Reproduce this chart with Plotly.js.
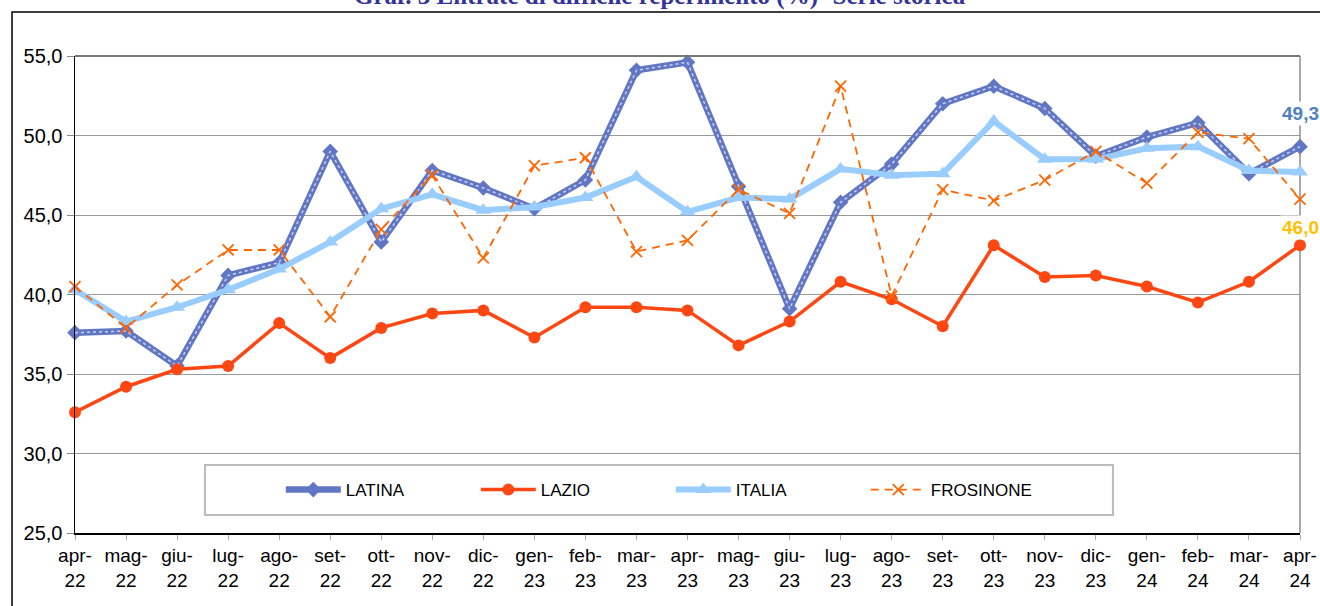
<!DOCTYPE html>
<html>
<head>
<meta charset="utf-8">
<script src="https://cdn.plot.ly/plotly-3.0.1.min.js"></script>
<style>html,body{margin:0;padding:0;background:#fff;}#chart{width:1320px;height:606px;}</style>
</head>
<body>
<div id="chart"></div>
<script>
const months = ['apr-22','mag-22','giu-22','lug-22','ago-22','set-22','ott-22','nov-22','dic-22','gen-23','feb-23','mar-23','apr-23','mag-23','giu-23','lug-23','ago-23','set-23','ott-23','nov-23','dic-23','gen-24','feb-24','mar-24','apr-24'];
const latina    = [37.6,37.7,35.5,41.2,42.0,49.0,43.3,47.8,46.7,45.4,47.2,54.1,54.6,46.8,39.1,45.8,48.2,52.0,53.1,51.7,48.7,49.9,50.8,47.6,49.3];
const lazio     = [32.6,34.2,35.3,35.5,38.2,36.0,37.9,38.8,39.0,37.3,39.2,39.2,39.0,36.8,38.3,40.8,39.7,38.0,43.1,41.1,41.2,40.5,39.5,40.8,43.1];
const italia    = [40.3,38.3,39.2,40.3,41.6,43.3,45.4,46.3,45.3,45.5,46.1,47.4,45.2,46.1,46.0,47.9,47.5,47.6,50.9,48.5,48.5,49.2,49.3,47.8,47.7];
const frosinone = [40.5,37.9,40.6,42.8,42.8,38.6,44.1,47.5,42.3,48.1,48.6,42.7,43.4,46.6,45.1,53.1,39.9,46.6,45.9,47.2,49.0,47.0,50.2,49.8,46.0];

const xs = months.map((m, i) => i);
const tickText = months.map(m => m.replace('-', '-<br>'));
const FONT = 'Liberation Sans, Arial, sans-serif';
const fmt = v => v.toFixed(1).replace('.', ',');

const traces = [
  {x: xs, y: latina, name: 'LATINA', mode: 'lines+markers', cliponaxis: false,
   line: {color: '#6177C4', width: 6.5}, marker: {symbol: 'diamond', size: 12, color: '#6177C4'}},
  {x: xs, y: latina, name: 'LATINA', mode: 'lines', showlegend: false, hoverinfo: 'skip', cliponaxis: false,
   line: {color: 'rgba(235,240,255,0.75)', width: 1.5, dash: 'dot'}},
  {x: xs, y: lazio, name: 'LAZIO', mode: 'lines+markers', cliponaxis: false,
   line: {color: '#FF4713', width: 3.5}, marker: {symbol: 'circle', size: 12, color: '#FF4713'}},
  {x: xs, y: italia, name: 'ITALIA', mode: 'lines+markers', cliponaxis: false,
   line: {color: '#99CCFF', width: 6}, marker: {symbol: 'triangle-up', size: 14, color: '#99CCFF'}},
  {x: xs, y: frosinone, name: 'FROSINONE', mode: 'lines+markers', cliponaxis: false,
   line: {color: '#FF6600', width: 1.8, dash: '8px,6px'},
   marker: {symbol: 'x-thin', size: 11, color: '#FF6600', line: {color: '#FF6600', width: 1.8}}}
];

const last = xs.length - 1;
const layout = {
  width: 1320, height: 606,
  margin: {l: 75, r: 20, t: 56, b: 73, autoexpand: false},
  paper_bgcolor: '#fff', plot_bgcolor: '#fff',
  separators: ',.',
  font: {family: FONT, size: 19, color: '#000'},
  showlegend: true,
  legend: {orientation: 'h', x: 0.168, xanchor: 'left', y: 0.090, yanchor: 'middle',
    bgcolor: 'rgba(0,0,0,0)', borderwidth: 0, font: {family: FONT, size: 17, color: '#000'},
    entrywidth: 125, entrywidthmode: 'pixels', itemwidth: 55, traceorder: 'normal'},
  xaxis: {range: [0, last], tickvals: xs, ticktext: tickText, showgrid: false, zeroline: false,
    showline: true, linecolor: '#000', linewidth: 1.5, ticks: 'outside', ticklen: 5, tickcolor: '#aaa',
    tickfont: {family: FONT, size: 19, color: '#000'}, fixedrange: true},
  yaxis: {range: [25, 55], dtick: 5, tick0: 25, tickformat: '.1f', showgrid: true, gridcolor: '#999', gridwidth: 1,
    zeroline: false, showline: true, linecolor: '#000', linewidth: 1.5, ticks: 'outside', ticklen: 7, tickcolor: '#888',
    tickfont: {family: FONT, size: 20, color: '#000'}, fixedrange: true},
  shapes: [
    {type: 'line', xref: 'paper', yref: 'paper', x0: 0, x1: 1, y0: 1, y1: 1, line: {color: '#777', width: 2}},
    {type: 'line', xref: 'paper', yref: 'paper', x0: 1, x1: 1, y0: 0, y1: 1, line: {color: '#aaa', width: 2}, layer: 'below'},
    {type: 'rect', xref: 'paper', yref: 'paper', x0: 0.1061, x1: 0.8473, y0: 0.0377, y1: 0.1426,
     line: {color: '#bbb', width: 2}, fillcolor: 'rgba(255,255,255,1)', layer: 'below'},
    {type: 'rect', xref: 'paper', yref: 'paper', x0: -0.0514, x1: 1.03, y0: -0.25, y1: 1.0922,
     line: {color: '#000', width: 1.5}, fillcolor: 'rgba(0,0,0,0)', layer: 'below'}
  ],
  annotations: [
    {text: '<b>Graf. 3 Entrate di difficile reperimento (%)- Serie storica</b>', xref: 'paper', yref: 'paper',
     x: 0.4776, y: 1.0922, xanchor: 'center', yanchor: 'bottom', showarrow: false,
     font: {family: 'Liberation Serif, Times New Roman, serif', size: 25, color: '#333399'}},
    {text: '<b>' + fmt(latina[last]) + '</b>', x: last, y: latina[last], xref: 'x', yref: 'y',
     showarrow: false, yshift: 33, xanchor: 'center', yanchor: 'middle', bgcolor: '#fff',
     font: {family: FONT, size: 19, color: '#4F81BD'}},
    {text: '<b>' + fmt(frosinone[last]) + '</b>', x: last, y: frosinone[last], xref: 'x', yref: 'y',
     showarrow: false, yshift: -28, xanchor: 'center', yanchor: 'middle', bgcolor: '#fff',
     font: {family: FONT, size: 19, color: '#FFC000'}}
  ]
};

Plotly.newPlot('chart', traces, layout, {displayModeBar: false, staticPlot: true});
</script>
</body>
</html>
